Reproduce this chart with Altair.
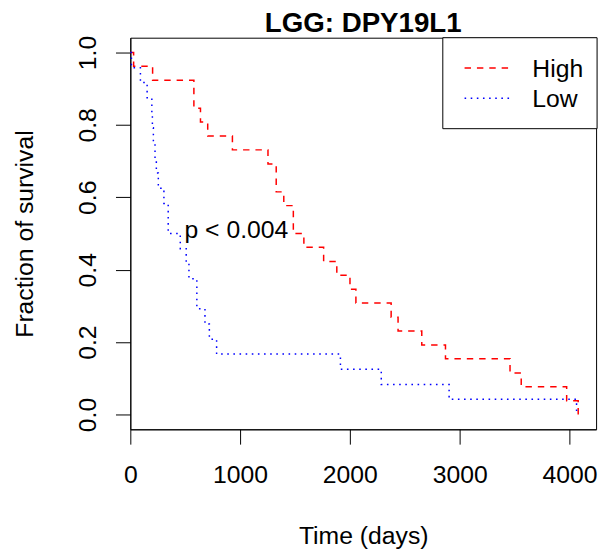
import altair as alt
import pandas as pd

# ---------------- data ----------------
title_text = "LGG: DPY19L1"
groups = ["High", "Low"]
colors = ["#FF0000", "#0000FF"]

high_time = [0, 30, 203, 579, 639, 705, 930, 1254, 1329, 1398, 1485, 1581, 1761,
             1881, 2001, 2055, 2376, 2439, 2655, 2871, 3459, 3561, 3975, 4080]
high_surv = [1.0, 0.962, 0.923, 0.846, 0.808, 0.769, 0.731, 0.692, 0.615, 0.577,
             0.5, 0.462, 0.423, 0.385, 0.346, 0.308, 0.269, 0.231, 0.192, 0.154,
             0.115, 0.077, 0.038, 0.0]

low_time = [0, 10, 92, 153, 196, 201, 210, 225, 237, 255, 306, 345, 455, 509, 534,
            606, 680, 720, 786, 1914, 2286, 2904, 4065]
low_surv = [1.0, 0.958, 0.917, 0.875, 0.833, 0.792, 0.75, 0.708, 0.667, 0.625,
            0.583, 0.5, 0.458, 0.417, 0.375, 0.292, 0.25, 0.208, 0.167, 0.125,
            0.083, 0.042, 0.0]

x_ticks = [0, 1000, 2000, 3000, 4000]
y_ticks = [0.0, 0.2, 0.4, 0.6, 0.8, 1.0]
p_label = "p < 0.004"
p_pos = (966, 0.488)

# ---------------- build tables ----------------
rows = []
for t, s in zip(high_time, high_surv):
    rows.append({"time": t, "surv": s, "group": "High"})
for t, s in zip(low_time, low_surv):
    rows.append({"time": t, "surv": s, "group": "Low"})
df = pd.DataFrame(rows)

FONT = "Liberation Sans"
W, H = 471, 396
x_scale = alt.Scale(domain=[0, 4243], nice=False, zero=False)
y_scale = alt.Scale(domain=[-0.0408, 1.0408], nice=False, zero=False)
dash_range = [[6.5, 6], [1.6, 4.6]]

x_axis = alt.Axis(values=x_ticks, format="d", tickSize=15, labelPadding=19,
                  labelFontSize=25, labelFont=FONT, labelColor="black",
                  tickColor="black", domainColor="black", grid=False,
                  title="Time (days)", titleFont=FONT, titleFontSize=25,
                  titleFontWeight="normal", titleColor="black",
                  titleBaseline="alphabetic", titleY=115.7, labelFlush=False)
y_axis = alt.Axis(values=y_ticks, format=".1f", tickSize=15, labelPadding=20,
                  labelAngle=270, labelAlign="center", labelBaseline="alphabetic",
                  labelFontSize=25, labelFont=FONT, labelColor="black",
                  tickColor="black", domainColor="black", grid=False,
                  title="Fraction of survival", titleFont=FONT, titleFontSize=25,
                  titleFontWeight="normal", titleColor="black", titleAngle=270,
                  titleBaseline="alphabetic", titleAlign="center",
                  titleX=-98.7, titleY=198, labelFlush=False)

lines = alt.Chart(df).mark_line(interpolate="step-after", strokeWidth=1.5).encode(
    x=alt.X("time:Q", scale=x_scale, axis=x_axis),
    y=alt.Y("surv:Q", scale=y_scale, axis=y_axis),
    color=alt.Color("group:N", scale=alt.Scale(domain=groups, range=colors), legend=None),
    strokeDash=alt.StrokeDash("group:N", scale=alt.Scale(domain=groups, range=dash_range), legend=None),
    order=alt.Order("time:Q"),
)

ptext = alt.Chart(pd.DataFrame({"x": [p_pos[0]], "y": [p_pos[1]], "t": [p_label]})).mark_text(
    font=FONT, fontSize=25, align="center", baseline="alphabetic", color="black"
).encode(x=alt.X("x:Q", scale=x_scale), y=alt.Y("y:Q", scale=y_scale), text="t:N")

one = pd.DataFrame({"a": [0]})

# title drawn as text above the plot frame
title_mark = alt.Chart(pd.DataFrame({"t": [title_text]})).mark_text(
    font=FONT, fontSize=28, fontWeight="bold", align="center", baseline="alphabetic",
    color="black"
).encode(x=alt.value(W / 2), y=alt.value(-5.7), text="t:N")

# legend (drawn manually to match R's legend box)
leg_box = alt.Chart(one).mark_rect(
    fill="white", stroke="black", strokeWidth=1
).encode(x=alt.value(316), x2=alt.value(472), y=alt.value(0), y2=alt.value(92))

leg_layers = []
for i, (g, c, d) in enumerate(zip(groups, colors, dash_range)):
    ly = 30.7 + 30.6 * i
    leg_layers.append(
        alt.Chart(one).mark_rule(strokeWidth=1.5, color=c, strokeDash=d).encode(
            x=alt.value(338), x2=alt.value(384), y=alt.value(ly))
    )
    leg_layers.append(
        alt.Chart(pd.DataFrame({"t": [g]})).mark_text(
            font=FONT, fontSize=25, align="left", baseline="alphabetic", color="black"
        ).encode(x=alt.value(406.5), y=alt.value(ly + 9), text="t:N")
    )

chart = alt.layer(lines, ptext, title_mark, leg_box, *leg_layers).properties(
    width=W, height=H,
    padding={"left": 123.7, "top": 27, "right": 8, "bottom": 118},
    autosize=alt.AutoSizeParams(type="none"),
    background="white",
).configure_view(stroke="black", strokeWidth=1)

chart.save("out.html", embed_options={"renderer": "svg", "actions": False})
